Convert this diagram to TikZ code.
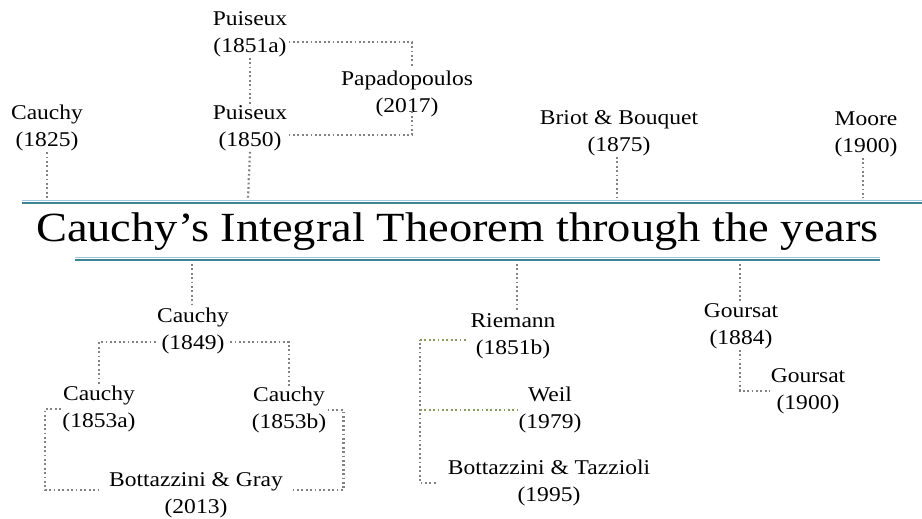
\documentclass[tikz,border=0pt]{standalone}
\usepackage{fontspec}
\setmainfont{Liberation Serif}
\usetikzlibrary{calc}
\definecolor{dotgray}{RGB}{130,130,130}
\definecolor{dotolive}{RGB}{135,155,90}
\definecolor{lineblue}{RGB}{160,200,222}
\definecolor{lineteal}{RGB}{62,132,148}
\tikzset{
  lbl/.style={align=center, inner sep=1pt, xscale=1.12, font=\fontsize{21}{27}\selectfont},
  ttl/.style={inner sep=0pt, xscale=1.12, font=\fontsize{41.5}{48}\selectfont},
  dotline/.style={draw=dotgray, line width=2.2pt, dash pattern=on 1.8pt off 2.6pt},
  olivedot/.style={draw=dotolive, line width=2.2pt, dash pattern=on 1.8pt off 2.6pt},
  rulelight/.style={draw=lineblue, line width=1pt},
  ruledark/.style={draw=lineteal, line width=1.6pt}
}
\begin{document}
\begin{tikzpicture}[x=1pt,y=-1pt]
\fill[white] (0,0) rectangle (922,519);
\useasboundingbox (0,0) rectangle (922,519);

% rules
\draw[rulelight] (22,200.5) -- (922,200.5);
\draw[ruledark] (22,203) -- (922,203);
\draw[rulelight] (75,257.5) -- (880,257.5);
\draw[ruledark] (75,260) -- (880,260);

% title
\node[ttl] (title) at (457.5,232) {Cauchy’s Integral Theorem through the years};

% top labels
\node[lbl] (c1825) at (47,128) {Cauchy\\(1825)};
\node[lbl] (p1851a) at (250,34) {Puiseux\\(1851a)};
\node[lbl] (p1850) at (250,128) {Puiseux\\(1850)};
\node[lbl] (papa) at (407,94) {Papadopoulos\\(2017)};
\node[lbl] (briot) at (619,133) {Briot \& Bouquet\\(1875)};
\node[lbl] (moore) at (866,134) {Moore\\(1900)};

% bottom labels
\node[lbl] (c1849) at (193,331) {Cauchy\\(1849)};
\node[lbl] (c1853a) at (99,409) {Cauchy\\(1853a)};
\node[lbl] (c1853b) at (289,410) {Cauchy\\(1853b)};
\node[lbl] (bg) at (196,495) {Bottazzini \& Gray\\(2013)};
\node[lbl] (riemann) at (513,336) {Riemann\\(1851b)};
\node[lbl] (weil) at (550,410) {Weil\\(1979)};
\node[lbl] (bt) at (549,483) {Bottazzini \& Tazzioli\\(1995)};
\node[lbl] (g1884) at (741,326) {Goursat\\(1884)};
\node[lbl] (g1900) at (808,391) {Goursat\\(1900)};

% timeline attachment points
\coordinate (t1) at (47,198);
\coordinate (t2) at (248,198);
\coordinate (t3) at (617,198);
\coordinate (t4) at (863,198);
\coordinate (b1) at (192,264);
\coordinate (b2) at (517,264);
\coordinate (b3) at (740,264);
\coordinate (rk) at (420,340);

% top connectors
\draw[dotline] (c1825.south) -- (t1);
\draw[dotline] (p1850.south) -- (t2);
\draw[dotline] (briot.south -| t3) -- (t3);
\draw[dotline] (moore.south -| t4) -- (t4);
\draw[dotline] (p1851a.south) -- (p1850.north);
\draw[dotline] ([yshift=-8pt]p1851a.east) -| ([xshift=5pt,yshift=3pt]papa.north);
\draw[dotline] ([yshift=-7pt]p1850.east) -| ([xshift=5pt,yshift=7pt]papa.south);

% bottom connectors
\draw[dotline] (b1) -- (b1 |- c1849.north);
\draw[dotline] ([yshift=-11pt]c1849.west) -| (c1853a.north);
\draw[dotline] ([yshift=-11pt]c1849.east) -| (c1853b.north);
\draw[dotline] (c1853a.west) -- ++(-16,0) |- ([xshift=-6pt,yshift=5pt]bg.west);
\draw[dotline] (c1853b.east) -- ++(16,0) |- ([xshift=6pt,yshift=5pt]bg.east);

\draw[dotline] (b2) -- (b2 |- riemann.north);
\draw[dotline] ([xshift=-11pt]bt.west) -| (rk);
\draw[olivedot] (rk) -- ([yshift=-4pt,xshift=-3pt]riemann.west);
\draw[olivedot] (rk |- weil.west) -- (weil.west);

\draw[dotline] (b3) -- (b3 |- g1884.north);
\draw[dotline] (g1884.south -| b3) |- (g1900.west);
\end{tikzpicture}
\end{document}
